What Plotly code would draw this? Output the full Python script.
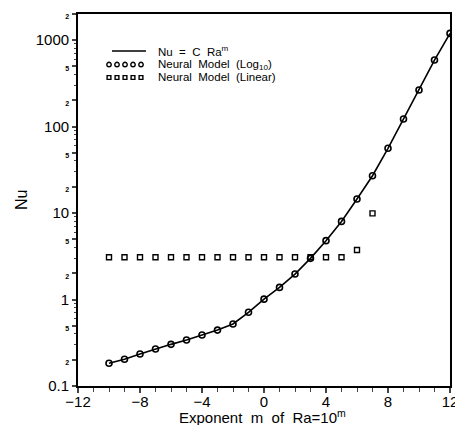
import plotly.graph_objects as go
import numpy as np

m = list(range(-10, 13))
nu_corr = [0.183, 0.204, 0.234, 0.268, 0.303, 0.340, 0.389, 0.443, 0.521, 0.711,
           1.01, 1.38, 1.97, 2.99, 4.79, 8.0, 14.5, 27.0, 56, 122, 264, 587, 1194]
nu_log = [0.183, 0.204, 0.234, 0.268, 0.303, 0.340, 0.389, 0.443, 0.521, 0.711,
          1.01, 1.38, 1.97, 2.99, 4.79, 8.0, 14.5, 27.0, 56, 122, 264, 587, 1194]
m_lin = list(range(-10, 8))
nu_lin = [3.08] * 16 + [3.73, 9.9]

y_major = [0.1, 1, 10, 100, 1000]
y_minor_lab = [0.2, 0.5, 2, 5, 20, 50, 200, 500, 2000]
x_ticks = [-12, -8, -4, 0, 4, 8, 12]
legend_names = ["Nu\u00a0 =\u00a0 C\u00a0 Ra<sup>m</sup>",
                "Neural\u00a0 Model\u00a0 (Log<sub>10</sub>)",
                "Neural\u00a0 Model\u00a0 (Linear)"]

font = "Liberation Sans, Arial, sans-serif"

# page body has an 8px margin; work in page pixels and shift into figure space
OFF = 8
FW, FH = 463 - OFF, 425 - OFF
L, R, T, B = 78, 450, 14, 386          # plot area, page pixels
W, H = R - L, B - T
def px(x):
    return (x - L) / W
def py(y):
    return (B - y) / H

fig = go.Figure()
fig.add_trace(go.Scatter(x=m, y=nu_corr, mode="lines", name=legend_names[0],
                         line=dict(color="black", width=1.6), showlegend=False))
fig.add_trace(go.Scatter(x=m, y=nu_log, mode="markers", name=legend_names[1], showlegend=False,
                         marker=dict(symbol="circle-open", size=6, color="black",
                                     line=dict(width=1.6, color="black"))))
fig.add_trace(go.Scatter(x=m_lin, y=nu_lin, mode="markers", name=legend_names[2], showlegend=False,
                         marker=dict(symbol="square-open", size=5, color="black",
                                     line=dict(width=1.4, color="black"))))

tv = sorted(y_major + y_minor_lab)
tt = []
for v in tv:
    if v in y_major:
        tt.append(f"{v:g}")
    else:
        digit = f"{v:g}".replace("0", "").replace(".", "")
        tt.append(f"<span style='font-size:7px;font-weight:bold'>{digit}</span>")

minor_vals = []
for d in [0.1, 1, 10, 100, 1000]:
    for k in range(2, 10):
        if k * d <= 2000:
            minor_vals.append(k * d)

# custom legend (keys + labels)
shapes = []
annotations = []
rows = [51, 64.5, 77.5]
shapes.append(dict(type="line", xref="paper", yref="paper", x0=px(112), x1=px(146),
                   y0=py(rows[0]), y1=py(rows[0]), line=dict(color="black", width=1.6)))
for cx in [109, 117, 125, 133, 141]:
    r = 2.2
    shapes.append(dict(type="circle", xref="paper", yref="paper",
                       x0=px(cx - r), x1=px(cx + r), y0=py(rows[1] + r), y1=py(rows[1] - r),
                       line=dict(color="black", width=1.4)))
    s = 1.9
    shapes.append(dict(type="rect", xref="paper", yref="paper",
                       x0=px(cx - s), x1=px(cx + s), y0=py(rows[2] + s), y1=py(rows[2] - s),
                       line=dict(color="black", width=1.4)))
for name, ry in zip(legend_names, rows):
    annotations.append(dict(text=name, xref="paper", yref="paper", x=px(156), y=py(ry),
                            xanchor="left", yanchor="middle", showarrow=False,
                            font=dict(size=11.5, family=font, color="black")))
annotations.append(dict(text="Exponent\u00a0 m\u00a0 of\u00a0 Ra=10<sup>m</sup>", xref="paper",
                        yref="paper", x=px(262), y=py(416), xanchor="center", yanchor="middle",
                        showarrow=False, font=dict(size=15, family=font, color="black")))
annotations.append(dict(text="Nu", xref="paper", yref="paper", x=px(21), y=py(200),
                        xanchor="center", yanchor="middle", textangle=-90,
                        showarrow=False, font=dict(size=16, family=font, color="black")))

fig.update_layout(
    width=FW, height=FH,
    margin=dict(l=L - OFF, r=463 - R, t=T - OFF, b=425 - B),
    paper_bgcolor="white", plot_bgcolor="white",
    font=dict(family=font, color="black", size=14),
    showlegend=False,
    shapes=shapes, annotations=annotations,
    xaxis=dict(range=[-12, 12], tickvals=x_ticks, automargin=False,
               ticktext=[("−" + str(-v)) if v < 0 else str(v) for v in x_ticks],
               ticks="outside", ticklen=5, tickwidth=1.5, showline=True, linecolor="black",
               linewidth=1.8, mirror=True, showgrid=False, zeroline=False,
               ticklabelstandoff=-4,
               minor=dict(dtick=1, ticks="outside", ticklen=4, tickwidth=1.2, showgrid=False),
               tickfont=dict(size=15)),
    yaxis=dict(type="log", range=[-1, np.log10(2000)], tickvals=tv, ticktext=tt, automargin=False,
               ticks="outside", ticklen=4, tickwidth=1.5, showline=True, linecolor="black",
               linewidth=1.8, mirror=True, showgrid=False, zeroline=False,
               minor=dict(tickvals=minor_vals, ticks="outside", ticklen=2, tickwidth=1, showgrid=False),
               tickfont=dict(size=15)),
)

fig.write_html("out.html")
